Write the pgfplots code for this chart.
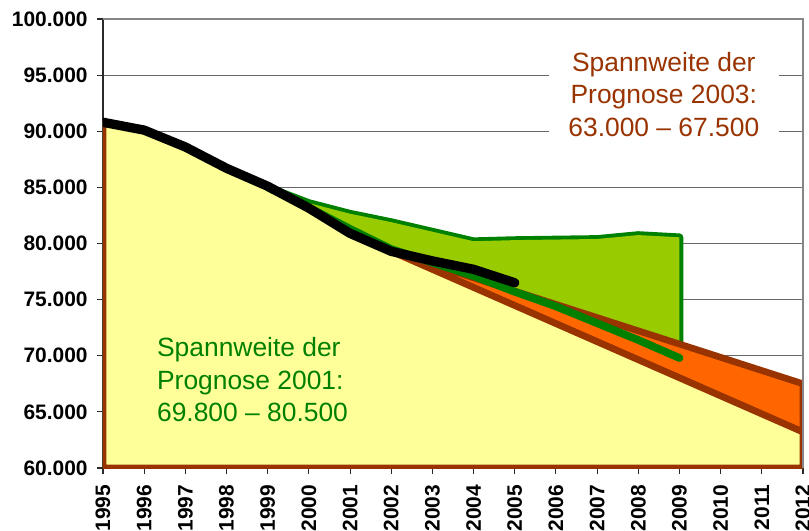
\documentclass[border=0pt]{standalone}
\usepackage{fontspec}
\setmainfont{Liberation Sans}
\usepackage{pgfplots}
\pgfplotsset{compat=1.18}
\definecolor{progYellow}{HTML}{FFFF99}
\definecolor{progOrange}{HTML}{FF6600}
\definecolor{progBrown}{HTML}{993300}
\definecolor{progLime}{HTML}{99CC00}
\definecolor{progGreen}{HTML}{008000}
\definecolor{progGrid}{HTML}{686868}
\definecolor{progFrame}{HTML}{868686}
\definecolor{progInk}{HTML}{2A2A2A}

\begin{document}
\begin{tikzpicture}
  \useasboundingbox (-77.25pt,-47.25pt) rectangle (529.5pt,351pt);
  \begin{axis}[
    name=ax,
    at={(0,0)}, anchor=south west,
    scale only axis,
    width=525pt,
    height=336.75pt,
    xmin=1995, xmax=2012,
    ymin=60000, ymax=100000,
    xtick={1995,1996,...,2012},
    ytick={60000,65000,...,100000},
    axis x line*=bottom,
    axis y line*=left,
    axis line style={draw=progInk, line width=1.1pt, -},
    tick align=outside,
    major tick length=4.5pt,
    tick style={draw=progInk, line width=0.8pt},
    ymajorgrids,
    major grid style={draw=progGrid, line width=0.8pt},
    scaled y ticks=false,
    /pgf/number format/assume math mode=true,
    yticklabel shift=3.5pt,
    xticklabel shift=4.5pt,
    yticklabel style={/pgf/number format/.cd, fixed, precision=0, 1000 sep={.},
      /tikz/.cd, font=\bfseries\fontsize{15.7}{16}\selectfont, text=black},
    xticklabel style={/pgf/number format/.cd, 1000 sep={},
      /tikz/.cd, rotate=90, anchor=east,
      font=\bfseries\fontsize{15.7}{16}\selectfont, text=black},
    line join=round,
  ]
    % Prognose 2001: Spannweite (Flaeche)
    \addplot[fill=progLime, draw=progGreen, line width=5.8pt, line cap=round]
      coordinates {(1999,85000) (2000,83600) (2001,82650) (2002,81900) (2003,81050)
        (2004,80200) (2005,80300) (2006,80350) (2007,80400) (2008,80750) (2009,80550)
        (2009,69800)};
    \addplot[fill=progLime, draw=none]
      coordinates {(1999,85000) (2000,83600) (2001,82650) (2002,81900) (2003,81050)
        (2004,80200) (2005,80300) (2006,80350) (2007,80400) (2008,80750) (2009,80550)
        (2009,69800) (2008,71400) (2007,72900) (2006,74400) (2005,75700) (2004,77100)
        (2003,78300) (2002,79500) (2001,81300) (2000,83200) (1999,85000)} --cycle;
    % Prognose 2003: Spannweite
    \addplot[fill=progOrange, draw=progBrown, line width=5pt]
      coordinates {(2002,79300) (2003,78120) (2004,76940) (2005,75760) (2006,74580)
        (2007,73400) (2008,72220) (2009,71040) (2010,69860) (2011,68680) (2012,67500)
        (2012,63200) (2011,64810) (2010,66420) (2009,68030) (2008,69640) (2007,71250)
        (2006,72860) (2005,74470) (2004,76080) (2003,77690) (2002,79300)} --cycle;
    % Flaeche unter der unteren Prognose
    \addplot[fill=progYellow, draw=none]
      coordinates {(1995,60000) (1995,90800) (1996,90100) (1997,88600) (1998,86700)
        (1999,85100) (2000,83150) (2001,80900) (2002,79300) (2003,77690) (2004,76080)
        (2005,74470) (2006,72860) (2007,71250) (2008,69640) (2009,68030) (2010,66420)
        (2011,64810) (2012,63200) (2012,60000)} --cycle;
    \addplot[draw=progBrown, line width=5pt]
      coordinates {(2002,79300) (2003,77690) (2004,76080) (2005,74470) (2006,72860)
        (2007,71250) (2008,69640) (2009,68030) (2010,66420) (2011,64810) (2012,63200)
        (2012,60000) (1995,60000) (1995,90800)};
    % untere Grenze Prognose 2001
    \addplot[draw=progGreen, line width=5.8pt, line cap=round]
      coordinates {(1999,85000) (2000,83200) (2001,81300) (2002,79500) (2003,78300)
        (2004,77100) (2005,75700) (2006,74400) (2007,72900) (2008,71400) (2009,69800)};
    % Ist-Werte
    \addplot[draw=black, line width=7pt, line cap=round]
      coordinates {(1995,90800) (1996,90100) (1997,88600) (1998,86700) (1999,85100)
        (2000,83150) (2001,80900) (2002,79300) (2003,78450) (2004,77700) (2005,76500)};

    \node[anchor=west, align=left, text=progGreen,
      font=\fontsize{19.8}{24.4}\selectfont]
      at (axis cs:1996.2,67840) {Spannweite der\\Prognose 2001:\\69.800 – 80.500};
    \node[fill=white, align=center, text=progBrown, minimum width=172.5pt,
      minimum height=80pt, font=\fontsize{19.8}{24.4}\selectfont]
      at (axis cs:2008.62,93300) {Spannweite der\\Prognose 2003:\\63.000 – 67.500};
  \end{axis}
  \draw[progFrame, line width=1.5pt] (ax.north west) -- (ax.north east) -- (ax.south east);
\end{tikzpicture}
\end{document}
